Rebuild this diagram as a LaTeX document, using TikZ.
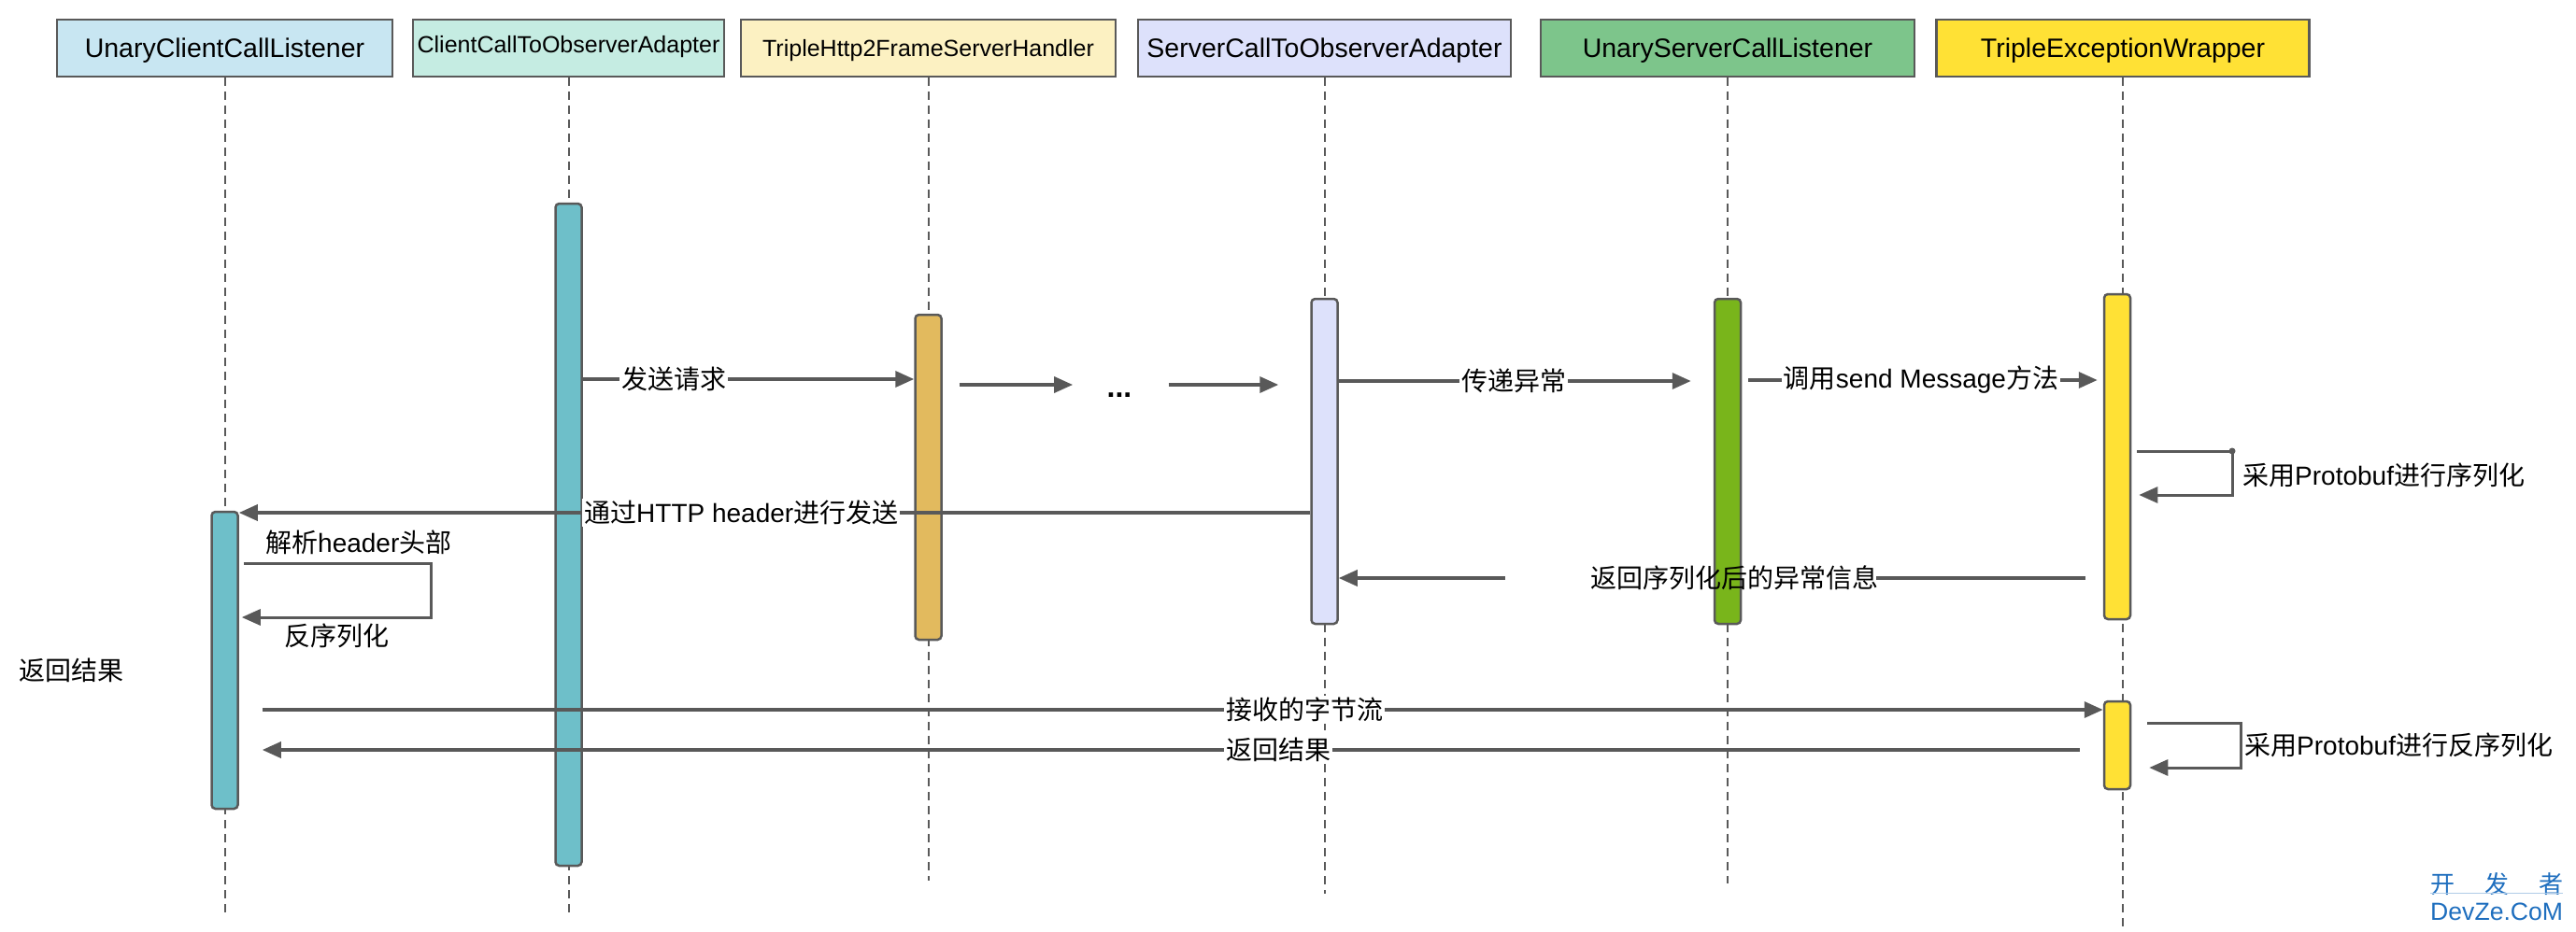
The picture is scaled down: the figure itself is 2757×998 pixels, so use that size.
\documentclass[tikz,border=0pt]{standalone}
\usepackage{fontspec}
\setmainfont{Liberation Sans}
\newfontfamily\cjk{Noto Sans CJK SC}
\usetikzlibrary{arrows.meta}
\definecolor{linegray}{HTML}{595959}
\definecolor{hdrblue}{HTML}{C8E6F2}
\definecolor{hdrmint}{HTML}{C5ECE2}
\definecolor{hdrcream}{HTML}{FCF1C2}
\definecolor{hdrlav}{HTML}{DDE1FB}
\definecolor{hdrgreen}{HTML}{7DC58B}
\definecolor{hdryellow}{HTML}{FFE135}
\definecolor{barteal}{HTML}{6EBFC9}
\definecolor{bargold}{HTML}{E2BA5E}
\definecolor{bargreen}{HTML}{79B51B}
\definecolor{wmblue}{HTML}{1E6EBE}
\newcommand\zh[1]{{\cjk #1}}
\newcommand\msgsize{\fontsize{28}{30}\selectfont}
\newcommand\hdrsize{\fontsize{28.5}{30}\selectfont}
\newcommand\hdrsmall{\fontsize{25}{27}\selectfont}
\tikzset{
  hdr/.style={draw=linegray, line width=2.5pt, minimum height=61pt, inner sep=0pt,
    text height=21pt, text depth=0pt, font=\hdrsize},
  life/.style={draw=linegray, line width=2pt, dash pattern=on 9pt off 6pt},
  bar/.style={draw=linegray, line width=2.5pt, rounded corners=4pt, minimum width=28pt, inner sep=0pt},
  msg/.style={draw=linegray, line width=3.5pt, -{Triangle[length=20pt,width=17pt]}},
  selfmsg/.style={draw=linegray, line width=3pt, -{Triangle[length=20pt,width=17pt]}},
  lbl/.style={font=\msgsize, inner sep=2pt, fill=white}
}
\begin{document}
\begin{tikzpicture}[x=1pt, y=-1pt]
\useasboundingbox (0,0) rectangle (2757,998);
% participants
\node[hdr, fill=hdrblue, minimum width=359pt] (uccl) at (240.5,51.5) {UnaryClientCallListener};
\node[hdr, fill=hdrmint, minimum width=333pt, font=\hdrsmall, text height=11pt] (cctoa) at (608.5,51.5) {ClientCallToObserverAdapter};
\node[hdr, fill=hdrcream, minimum width=401pt, font=\hdrsmall, text height=17pt] (th2fsh) at (993.5,51.5) {TripleHttp2FrameServerHandler};
\node[hdr, fill=hdrlav, minimum width=399pt] (sctoa) at (1417.5,51.5) {ServerCallToObserverAdapter};
\node[hdr, fill=hdrgreen, minimum width=400pt] (usclr) at (1849,51.5) {UnaryServerCallListener};
\node[hdr, fill=hdryellow, minimum width=399pt] (tew) at (2272,51.5) {TripleExceptionWrapper};
% lifelines
\foreach \p/\e in {uccl/980, cctoa/978, th2fsh/943, sctoa/957, usclr/946, tew/995}
  \draw[life] (\p.south) -- (\p.south |- 0,\e);
% activations
\node[bar, fill=barteal, minimum height=318pt] (act1) at (uccl.south |- 0,707) {};
\node[bar, fill=barteal, minimum height=709pt] (act2) at (cctoa.south |- 0,572.5) {};
\node[bar, fill=bargold, minimum height=348pt] (act3) at (th2fsh.south |- 0,511) {};
\node[bar, fill=hdrlav, minimum height=348pt] (act4) at (sctoa.south |- 0,494) {};
\node[bar, fill=bargreen, minimum height=348pt] (act5) at (usclr.south |- 0,494) {};
\node[bar, fill=hdryellow, minimum height=348pt] (act6a) at ([xshift=-6pt]tew.south |- 0,489) {};
\node[bar, fill=hdryellow, minimum height=94pt] (act6b) at ([xshift=-6pt]tew.south |- 0,798) {};
% request
\draw[msg] (act2.east |- 0,406) -- (act3.west |- 0,406);
\node[lbl] (m1) at (721,406) {\zh{发送请求}};
\node[font=\fontsize{32}{34}\selectfont\bfseries] (dots) at (1198,423) {...};
\draw[msg] ([xshift=18pt]act3.east |- 0,412) -- ([xshift=-33pt]dots.west |- 0,412);
\draw[msg] ([xshift=36pt]dots.east |- 0,412) -- ([xshift=-34pt]act4.west |- 0,412);
\draw[msg] (act4.east |- 0,408) -- ([xshift=-24pt]act5.west |- 0,408);
\node[lbl] (m3) at (1620,408) {\zh{传递异常}};
\draw[msg] ([xshift=7pt]act5.east |- 0,407) -- ([xshift=-6pt]act6a.west |- 0,407);
\node[lbl] (m4) at (2056,407) {\zh{调用}send Message\zh{方法}};
% serialize
\coordinate (lp5) at (2389,530);
\draw[selfmsg] ([xshift=6pt]act6a.east |- 0,483) -| (lp5) -- ([xshift=8pt]act6a.east |- lp5);
\fill[linegray] (lp5 |- 0,483) circle (3.5pt);
\node[lbl, anchor=west] (m5) at (2398,509) {\zh{采用}Protobuf\zh{进行序列化}};
\node[lbl, fill=none] (m12) at (1856,619) {\zh{返回序列化后的异常信息}};
\draw[msg, -] ([xshift=-19pt]act6a.west |- m12) -- ([xshift=-4pt]m12.east);
\draw[msg] ([xshift=-89pt]m12.west) -- (act4.east |- m12);
% header back to client
\draw[msg] (act4.west |- 0,549) -- (act1.east |- 0,549);
\node[lbl, anchor=west] (m6) at (623,549) {\zh{通过}HTTP header\zh{进行发送}};
\coordinate (lp7) at (461,661);
\draw[selfmsg] ([xshift=5pt]act1.east |- 0,603) -| (lp7) -- ([xshift=3pt]act1.east |- lp7);
\node[lbl, fill=none, anchor=west] (m7a) at (282,581) {\zh{解析}header\zh{头部}};
\node[lbl, fill=none, anchor=west] (m7b) at (302,681) {\zh{反序列化}};
\node[lbl, fill=none, anchor=west] (m8) at (18,718) {\zh{返回结果}};
% byte stream
\draw[msg] ([xshift=25pt]act1.east |- 0,760) -- (act6b.west |- 0,760);
\node[lbl] (m9) at (1396,760) {\zh{接收的字节流}};
\coordinate (lp11) at (2398,822);
\draw[selfmsg] ([xshift=17pt]act6b.east |- 0,774) -| (lp11) -- ([xshift=19pt]act6b.east |- lp11);
\node[lbl, anchor=west] (m11) at (2400,798) {\zh{采用}Protobuf\zh{进行反序列化}};
\draw[msg] ([xshift=-25pt]act6b.west |- 0,803) -- ([xshift=25pt]act1.east |- 0,803);
\node[lbl] (m10) at (1368,803) {\zh{返回结果}};
% watermark
\node[font=\fontsize{26}{28}\selectfont, text=wmblue, anchor=west, inner sep=0pt] (wmzh) at (2601,947) {\zh{开}\hspace{32pt}\zh{发}\hspace{32pt}\zh{者}};
\node[font=\fontsize{26.6}{28}\selectfont, text=wmblue, anchor=west, inner sep=0pt] (wmen) at (2601,976) {DevZe.CoM};
\draw[wmblue!35, line width=1pt] ([yshift=3pt]wmzh.south west) -- ([yshift=3pt]wmzh.south east);
\end{tikzpicture}
\end{document}
